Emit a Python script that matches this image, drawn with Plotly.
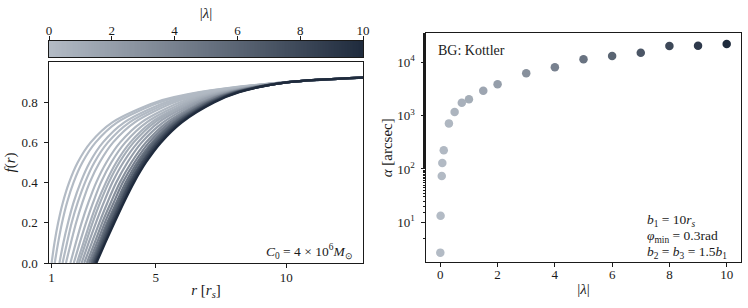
import plotly.graph_objects as go
from plotly.colors import sample_colorscale

# ---- data ----
lambdas = [0, 0.01, 0.05, 0.07, 0.12, 0.3, 0.5, 0.75, 1, 1.5, 2, 3, 4, 5, 6, 7, 8, 9, 10]
alpha_arcsec = [2.7, 13.3, 74, 130, 224, 716, 1170, 1750, 2020, 2930, 3870, 6220,
                8060, 11400, 13100, 15100, 20200, 20500, 22000]

# f(r) levels and the radius (in r_s) at which each curve reaches them
f_levels = [0.0, 0.1, 0.2, 0.3, 0.4, 0.5, 0.6, 0.7, 0.8, 0.85, 0.9, 0.923]
r_curves = [
    [1.00, 1.11, 1.25, 1.43, 1.67, 2.00, 2.50, 3.33, 5.00, 6.67, 10.00, 13.0],
    [1.12, 1.25, 1.40, 1.59, 1.84, 2.18, 2.69, 3.52, 5.16, 6.77, 10.01, 13.0],
    [1.30, 1.45, 1.63, 1.84, 2.11, 2.46, 2.97, 3.79, 5.39, 6.93, 10.02, 13.0],
    [1.42, 1.59, 1.77, 2.00, 2.28, 2.64, 3.16, 3.99, 5.55, 7.04, 10.02, 13.0],
    [1.55, 1.74, 1.94, 2.18, 2.46, 2.84, 3.36, 4.19, 5.72, 7.16, 10.03, 13.0],
    [1.72, 1.93, 2.15, 2.41, 2.71, 3.10, 3.63, 4.45, 5.94, 7.31, 10.04, 13.0],
    [1.85, 2.08, 2.32, 2.59, 2.89, 3.29, 3.83, 4.65, 6.12, 7.42, 10.05, 13.0],
    [1.97, 2.22, 2.47, 2.75, 3.08, 3.48, 4.02, 4.83, 6.27, 7.53, 10.06, 13.0],
    [2.05, 2.31, 2.57, 2.86, 3.19, 3.60, 4.15, 4.96, 6.37, 7.60, 10.06, 13.0],
    [2.15, 2.42, 2.70, 3.00, 3.33, 3.75, 4.31, 5.11, 6.51, 7.69, 10.07, 13.0],
    [2.25, 2.54, 2.83, 3.14, 3.48, 3.91, 4.46, 5.28, 6.63, 7.78, 10.07, 13.0],
    [2.35, 2.65, 2.94, 3.27, 3.62, 4.06, 4.62, 5.43, 6.77, 7.87, 10.08, 13.0],
    [2.43, 2.74, 3.04, 3.38, 3.73, 4.18, 4.74, 5.55, 6.87, 7.94, 10.08, 13.0],
    [2.50, 2.82, 3.13, 3.48, 3.84, 4.28, 4.85, 5.66, 6.97, 8.00, 10.09, 13.0],
    [2.55, 2.88, 3.19, 3.55, 3.92, 4.36, 4.93, 5.74, 7.02, 8.05, 10.09, 13.0],
    [2.60, 2.93, 3.26, 3.62, 3.99, 4.44, 5.01, 5.82, 7.09, 8.09, 10.09, 13.0],
    [2.64, 2.98, 3.31, 3.67, 4.04, 4.50, 5.07, 5.87, 7.14, 8.13, 10.10, 13.0],
    [2.68, 3.03, 3.36, 3.73, 4.10, 4.56, 5.14, 5.94, 7.20, 8.16, 10.10, 13.0],
    [2.72, 3.06, 3.41, 3.77, 4.16, 4.62, 5.20, 6.00, 7.25, 8.20, 10.10, 13.0],
]

left_xticks = [1, 5, 10]
left_yticks = [0.0, 0.2, 0.4, 0.6, 0.8]
right_xticks = [0, 2, 4, 6, 8, 10]
right_yticks = [10, 100, 1000, 10000]
right_yticklabels = ["10<sup>1</sup>", "10<sup>2</sup>", "10<sup>3</sup>", "10<sup>4</sup>"]
cbar_ticks = [0, 2, 4, 6, 8, 10]

# ---- style ----
W, H = 748, 308
FONT = "Liberation Serif"
INK = "#1a1a1a"
cscale = [[0.0, "#b3bbc5"], [1.0, "#1f2b3d"]]
lam_max = 10.0

def px_x(p):
    return p / W

def px_y(p):
    return 1 - p / H

fig = go.Figure()

cols = sample_colorscale(cscale, [l / lam_max for l in lambdas])
for lam, rr, c in zip(lambdas, r_curves, cols):
    fig.add_trace(go.Scatter(
        x=rr, y=f_levels, mode="lines", line=dict(color=c, width=2.2, shape="spline", smoothing=0.8),
        xaxis="x", yaxis="y", showlegend=False, hoverinfo="skip"))

fig.add_trace(go.Scatter(
    x=lambdas, y=alpha_arcsec, mode="markers", xaxis="x2", yaxis="y2", showlegend=False,
    marker=dict(size=8.5, color=lambdas, colorscale=cscale, cmin=0, cmax=lam_max,
                line=dict(width=0), showscale=False)))

# colour bar drawn as a thin heatmap strip (gradient over the |lambda| scale)
n_steps = 200
grad = [lam_max * i / (n_steps - 1) for i in range(n_steps)]
fig.add_trace(go.Heatmap(x=grad, y=[0], z=[grad], colorscale=cscale, zmin=0, zmax=lam_max,
                         showscale=False, xaxis="x3", yaxis="y3", hoverinfo="skip"))

axis_common = dict(showline=True, linecolor=INK, linewidth=1.2, mirror=True, showgrid=False,
                   zeroline=False, ticks="outside", ticklen=3.5, tickwidth=1, tickcolor=INK,
                   automargin=False,
                   tickfont=dict(family=FONT, size=13, color=INK))
TFONT = dict(family=FONT, size=15, color=INK)

fig.update_layout(
    width=W, height=H, margin=dict(l=0, r=0, t=0, b=0, autoexpand=False),
    paper_bgcolor="white", plot_bgcolor="white",
    xaxis=dict(domain=[px_x(49), px_x(363)], range=[0.9, 12.95], tickvals=left_xticks,
               anchor="y", ticklabelstandoff=-1,
               title=dict(text="<i>r</i> [<i>r<sub>s</sub></i>]", standoff=0, font=TFONT), **axis_common),
    yaxis=dict(domain=[px_y(263), px_y(62)], range=[0, 1.0], tickvals=left_yticks,
               ticktext=["%.1f" % v for v in left_yticks], anchor="x", ticklabelstandoff=4,
               title=dict(text="<i>f</i>(<i>r</i>)", standoff=2, font=TFONT), **axis_common),
    xaxis2=dict(domain=[px_x(426), px_x(741)], range=[-0.5, 10.5], tickvals=right_xticks,
                anchor="y2", ticklabelstandoff=-4,
                title=dict(text="|<i>λ</i>|", standoff=2, font=TFONT), **axis_common),
    yaxis2=dict(domain=[px_y(262.3), px_y(33.3)], type="log", range=[0.25, 4.544],
                tickvals=right_yticks, ticktext=right_yticklabels, anchor="x2", ticklabelstandoff=4,
                minor=dict(ticks="outside", ticklen=2, tickcolor=INK, showgrid=False),
                title=dict(text="<i>α</i> [arcsec]", standoff=0, font=TFONT), **axis_common),
    xaxis3=dict(domain=[px_x(49), px_x(363)], range=[0, 10], tickvals=cbar_ticks, side="top",
                anchor="y3", ticklabelstandoff=-4,
                title=dict(text="|<i>λ</i>|", standoff=0, font=TFONT), **axis_common),
    yaxis3=dict(domain=[px_y(57), px_y(41)], range=[-0.5, 0.5], anchor="x3", showticklabels=False,
                showline=True, linecolor=INK, linewidth=1.2, mirror=True, showgrid=False,
                zeroline=False, ticks="", automargin=False),
)

fig.add_annotation(xref="paper", yref="paper", x=px_x(355), y=px_y(251), xanchor="right", yanchor="middle",
                   text="<i>C</i><sub>0</sub> = 4 × 10<sup>6</sup><i>M</i><sub>⊙</sub>", showarrow=False,
                   font=dict(family=FONT, size=13.5, color=INK))
fig.add_annotation(xref="paper", yref="paper", x=px_x(436), y=px_y(50), xanchor="left", yanchor="middle",
                   text="BG: Kottler", showarrow=False, font=dict(family=FONT, size=14, color=INK))
for txt, yc in [("<i>b</i><sub>1</sub> = 10<i>r<sub>s</sub></i>", 220),
                ("<i>φ</i><sub>min</sub> = 0.3rad", 236),
                ("<i>b</i><sub>2</sub> = <i>b</i><sub>3</sub> = 1.5<i>b</i><sub>1</sub>", 252)]:
    fig.add_annotation(xref="paper", yref="paper", x=px_x(645), y=px_y(yc), xanchor="left", yanchor="middle",
                       text=txt, showarrow=False, font=dict(family=FONT, size=13.5, color=INK))

fig.write_html("out.html", config={"displayModeBar": False},
               post_script="document.body.style.margin='0';document.body.style.padding='0';")
